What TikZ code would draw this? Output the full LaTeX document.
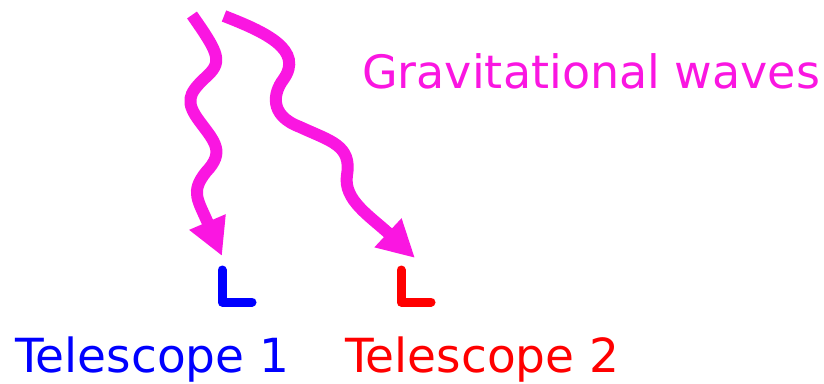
\documentclass[tikz,border=0pt]{standalone}
\usepackage{fontspec}
\setmainfont{DejaVu Sans}
\usetikzlibrary{arrows.meta, positioning}
\definecolor{gwmagenta}{RGB}{250,22,225}

\begin{document}
\begin{tikzpicture}[
    x=1pt, y=-1pt,
    wave/.style={gwmagenta, line width=12pt, -{Triangle[length=37pt, width=37pt]}},
    detector/.style={line width=9pt, line cap=round, line join=round},
    label/.style={inner sep=0pt, anchor=base west, font=\fontsize{47}{56}\selectfont},
]
\useasboundingbox (0,0) rectangle (824,383);

% Telescopes
\coordinate (tel1) at (222,302);
\coordinate (tel2) at (401,302);
\draw[detector, blue] ([yshift=32pt]tel1) -- (tel1) -- ([xshift=30pt]tel1);
\draw[detector, red]  ([yshift=32pt]tel2) -- (tel2) -- ([xshift=30pt]tel2);

% Labels
\node[label, blue]      (lab1) at (15,372)  {Telescope 1};
\node[label, red]       (lab2) at (345,372) {Telescope 2};
\node[label, gwmagenta, font=\fontsize{46}{55}\selectfont] (gw) at (362,88) {Gravitational waves};

% Waves
\coordinate (w1s) at (192,15);
\coordinate (w1e) at (222,256);
\coordinate (w2s) at (224,16);
\coordinate (w2e) at (415,258);
\draw[wave] (w1s) .. controls (220,55) and (223,62) .. (205,78)
                  .. controls (188,94) and (185,102) .. (200,122)
                  .. controls (215,142) and (225,152) .. (206,172)
                  .. controls (190,192) and (198,200) .. (w1e);
\draw[wave] (w2s) .. controls (265,32) and (305,50) .. (283,80)
                  .. controls (274,92) and (268,115) .. (300,127)
                  .. controls (330,141) and (352,145) .. (347,175)
                  .. controls (343,200) and (370,216) .. (w2e);

\end{tikzpicture}
\end{document}
